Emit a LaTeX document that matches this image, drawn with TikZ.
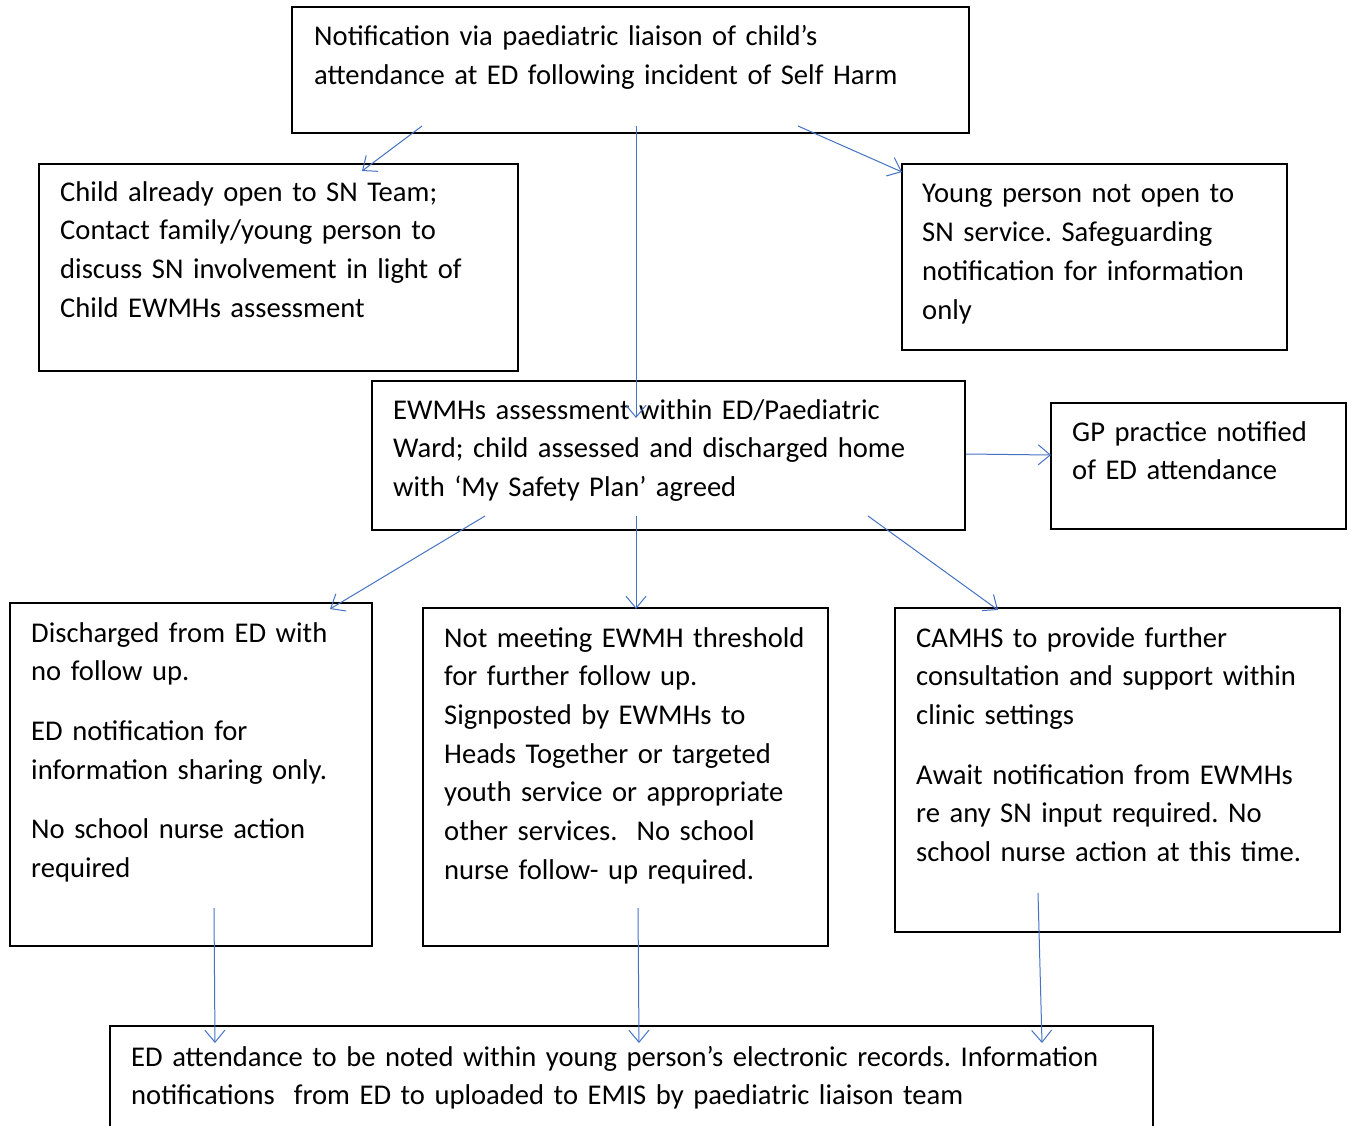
\documentclass[tikz,border=0pt]{standalone}
\usepackage{fontspec}
\setmainfont{Carlito}
\usetikzlibrary{arrows.meta}
\definecolor{arrowblue}{HTML}{4472C4}
\frenchspacing
\tikzset{
  box/.style={draw=black, line width=1.5pt, fill=white},
  txt/.style={anchor=base west, inner sep=0pt, text width=1200pt, align=left,
    font=\fontsize{28.6}{38.7}\selectfont\frenchspacing},
  conn/.style={draw=arrowblue, line width=1pt, -{Straight Barb[length=12pt,width=20pt,line width=1pt]}}
}
\begin{document}
\begin{tikzpicture}[x=1pt,y=-1pt]
\useasboundingbox (0,0) rectangle (1351,1126);
\clip (0,0) rectangle (1351,1126);
\fill[white] (0,0) rectangle (1351,1126);
% boxes
\path[box] (292,7) rectangle (969,133);
\node[inner sep=0pt, minimum width=677pt, minimum height=126pt] (top) at (630.5,70) {};
\path[box] (39,164) rectangle (518,371);
\node[inner sep=0pt, minimum width=479pt, minimum height=207pt] (left) at (278.5,267.5) {};
\path[box] (902,164) rectangle (1287,350);
\node[inner sep=0pt, minimum width=385pt, minimum height=186pt] (right) at (1094.5,257) {};
\path[box] (372,381) rectangle (965,530);
\node[inner sep=0pt, minimum width=593pt, minimum height=149pt] (mid) at (668.5,455.5) {};
\path[box] (1051,403) rectangle (1346,529);
\node[inner sep=0pt, minimum width=295pt, minimum height=126pt] (gp) at (1198.5,466) {};
\path[box] (10,603) rectangle (372,946);
\node[inner sep=0pt, minimum width=362pt, minimum height=343pt] (bl) at (191,774.5) {};
\path[box] (423,608) rectangle (828,946);
\node[inner sep=0pt, minimum width=405pt, minimum height=338pt] (bm) at (625.5,777) {};
\path[box] (895,608) rectangle (1340,932);
\node[inner sep=0pt, minimum width=445pt, minimum height=324pt] (br) at (1117.5,770) {};
\path[box] (110,1026) rectangle (1153,1160);
\node[inner sep=0pt, minimum width=1043pt, minimum height=134pt] (bot) at (631.5,1093) {};
% texts
\node[txt] (toptext) at (314,46) {Notification via paediatric liaison of child’s\\attendance at ED following incident of Self Harm};
\node[txt] (lefttext) at (60,201) {Child already open to SN Team;\\Contact family/young person to\\discuss SN involvement in light of\\Child EWMHs assessment};
\node[txt] (righttext) at (922,203) {Young person not open to\\SN service. Safeguarding\\notification for information\\only};
\node[txt] (midtext) at (393,419) {EWMHs assessment within ED/Paediatric\\Ward; child assessed and discharged home\\with ‘My Safety Plan’ agreed};
\node[txt] (gptext) at (1072,441) {GP practice notified\\of ED attendance};
\node[txt] (bltext) at (31,642) {Discharged from ED with\\no follow up.\\[21pt]ED notification for\\information sharing only.\\[21pt]No school nurse action\\required};
\node[txt] (bmtext) at (444,647) {Not meeting EWMH threshold\\for further follow up.\\Signposted by EWMHs to\\Heads Together or targeted\\youth service or appropriate\\other services.\ \ No school\\nurse follow- up required.};
\node[txt] (brtext) at (916,647) {CAMHS to provide further\\consultation and support within\\clinic settings\\[21pt]Await notification from EWMHs\\re any SN input required. No\\school nurse action at this time.};
\node[txt] (bottext) at (131,1066) {ED attendance to be noted within young person’s electronic records. Information\\notifications\ \ from ED to uploaded to EMIS by paediatric liaison team};
% connector end points
\coordinate (s1) at (422,126); \coordinate (e1) at (362,171);
\coordinate (s2) at (636,126); \coordinate (e2) at (636,418);
\coordinate (s3) at (798,126); \coordinate (e3) at (902,172);
\coordinate (s4) at (966,454); \coordinate (e4) at (1051,455);
\coordinate (s5) at (485,516); \coordinate (e5) at (330,609);
\coordinate (s6) at (636,516); \coordinate (e6) at (636,609);
\coordinate (s7) at (868,516); \coordinate (e7) at (998,610);
\coordinate (s8) at (214,908); \coordinate (e8) at (215,1043);
\coordinate (s9) at (638,908); \coordinate (e9) at (639,1043);
\coordinate (s10) at (1038,893); \coordinate (e10) at (1042,1043);
\foreach \i in {1,...,10} {\draw[conn] (s\i) -- (e\i);}
\end{tikzpicture}
\end{document}
